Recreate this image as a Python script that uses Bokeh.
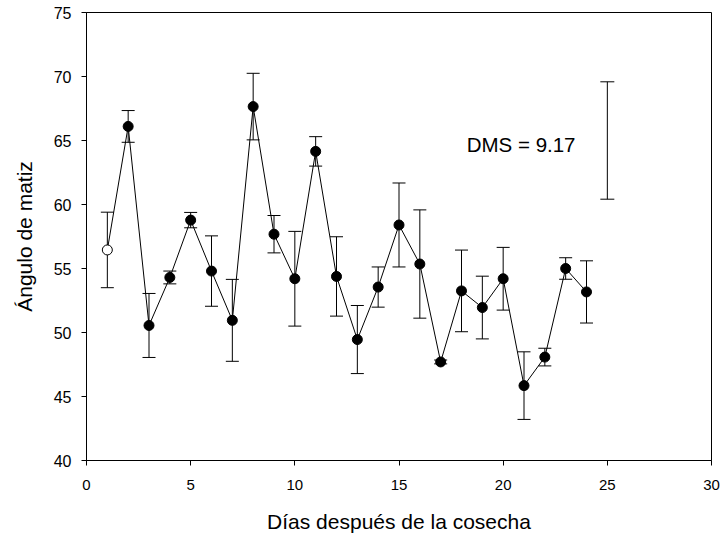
from bokeh.plotting import figure
from bokeh.models import ColumnDataSource, Whisker, TeeHead, Label, FixedTicker
from bokeh.embed import file_html
from bokeh.resources import INLINE

# Hue angle by day after harvest (mean and error half-width)
days = list(range(1, 25))
hue = [56.45, 66.1, 50.55, 54.3, 58.78, 54.8, 50.95, 67.65, 57.68, 54.2,
       64.15, 54.38, 49.45, 53.55, 58.4, 55.35, 47.7, 53.25, 51.95, 54.2,
       45.85, 48.08, 55.0, 53.17]
err = [2.95, 1.24, 2.5, 0.5, 0.6, 2.75, 3.2, 2.6, 1.46, 3.7,
       1.15, 3.1, 2.66, 1.57, 3.28, 4.23, 0.15, 3.19, 2.45, 2.45,
       2.64, 0.69, 0.84, 2.43]

# Least significant difference bar
dms_value = 9.17
dms_x = [25]
dms_center = [65.0]
dms_label = "DMS = 9.17"

x_ticks = [0, 5, 10, 15, 20, 25, 30]
y_ticks = [40, 45, 50, 55, 60, 65, 70, 75]

FONT = "Liberation Sans"

src = ColumnDataSource(dict(
    x=days, y=hue,
    lo=[h - e for h, e in zip(hue, err)],
    hi=[h + e for h, e in zip(hue, err)],
))
first = ColumnDataSource(dict(x=days[:1], y=hue[:1]))
rest = ColumnDataSource(dict(x=days[1:], y=hue[1:]))
dms_src = ColumnDataSource(dict(
    x=dms_x,
    lo=[c - dms_value / 2 for c in dms_center],
    hi=[c + dms_value / 2 for c in dms_center],
))

p = figure(width=722, height=535, x_range=(0, 30), y_range=(40, 75),
           output_backend="svg", toolbar_location=None,
           min_border_left=86, min_border_right=11,
           min_border_top=12, min_border_bottom=75)

p.xgrid.visible = False
p.ygrid.visible = False
p.outline_line_color = "black"
p.outline_line_width = 1
p.background_fill_color = "white"
p.border_fill_color = "white"

for ax, ticks in ((p.xaxis[0], x_ticks), (p.yaxis[0], y_ticks)):
    ax.ticker = FixedTicker(ticks=ticks)
    ax.minor_tick_line_color = None
    ax.major_tick_in = 0
    ax.major_tick_out = 5
    ax.axis_line_color = "black"
    ax.major_tick_line_color = "black"
    ax.major_label_text_font = FONT
    ax.major_label_text_color = "black"
    ax.axis_label_text_font = FONT
    ax.axis_label_text_font_size = "21px"
    ax.axis_label_text_font_style = "normal"
    ax.axis_label_text_color = "black"

p.xaxis.major_label_text_font_size = "15px"
p.yaxis.major_label_text_font_size = "16px"
p.xaxis.axis_label = "Días después de la cosecha"
p.yaxis.axis_label = "Ángulo de matiz"
p.xaxis.major_label_standoff = 14
p.xaxis.axis_label_standoff = 17
p.yaxis.major_label_standoff = 10
p.yaxis.axis_label_standoff = 15

# Error bars
p.add_layout(Whisker(source=src, base="x", lower="lo", upper="hi",
                     line_color="black", line_width=1,
                     upper_head=TeeHead(size=13, line_color="black", line_width=1),
                     lower_head=TeeHead(size=13, line_color="black", line_width=1)))

# Connecting line and markers
p.line("x", "y", source=src, line_color="black", line_width=1)
p.scatter("x", "y", source=rest, size=10, fill_color="black", line_color="black")
p.scatter("x", "y", source=first, size=10, fill_color="white", line_color="black",
          line_width=1)

# DMS bar and label
p.add_layout(Whisker(source=dms_src, base="x", lower="lo", upper="hi",
                     line_color="black", line_width=1,
                     upper_head=TeeHead(size=14, line_color="black", line_width=1),
                     lower_head=TeeHead(size=14, line_color="black", line_width=1)))
p.add_layout(Label(x=18.25, y=64.65, text=dms_label, text_font=FONT,
                   text_font_size="20.5px", text_baseline="middle",
                   text_align="left", text_color="black"))

open("out.html", "w").write(file_html(p, INLINE))
